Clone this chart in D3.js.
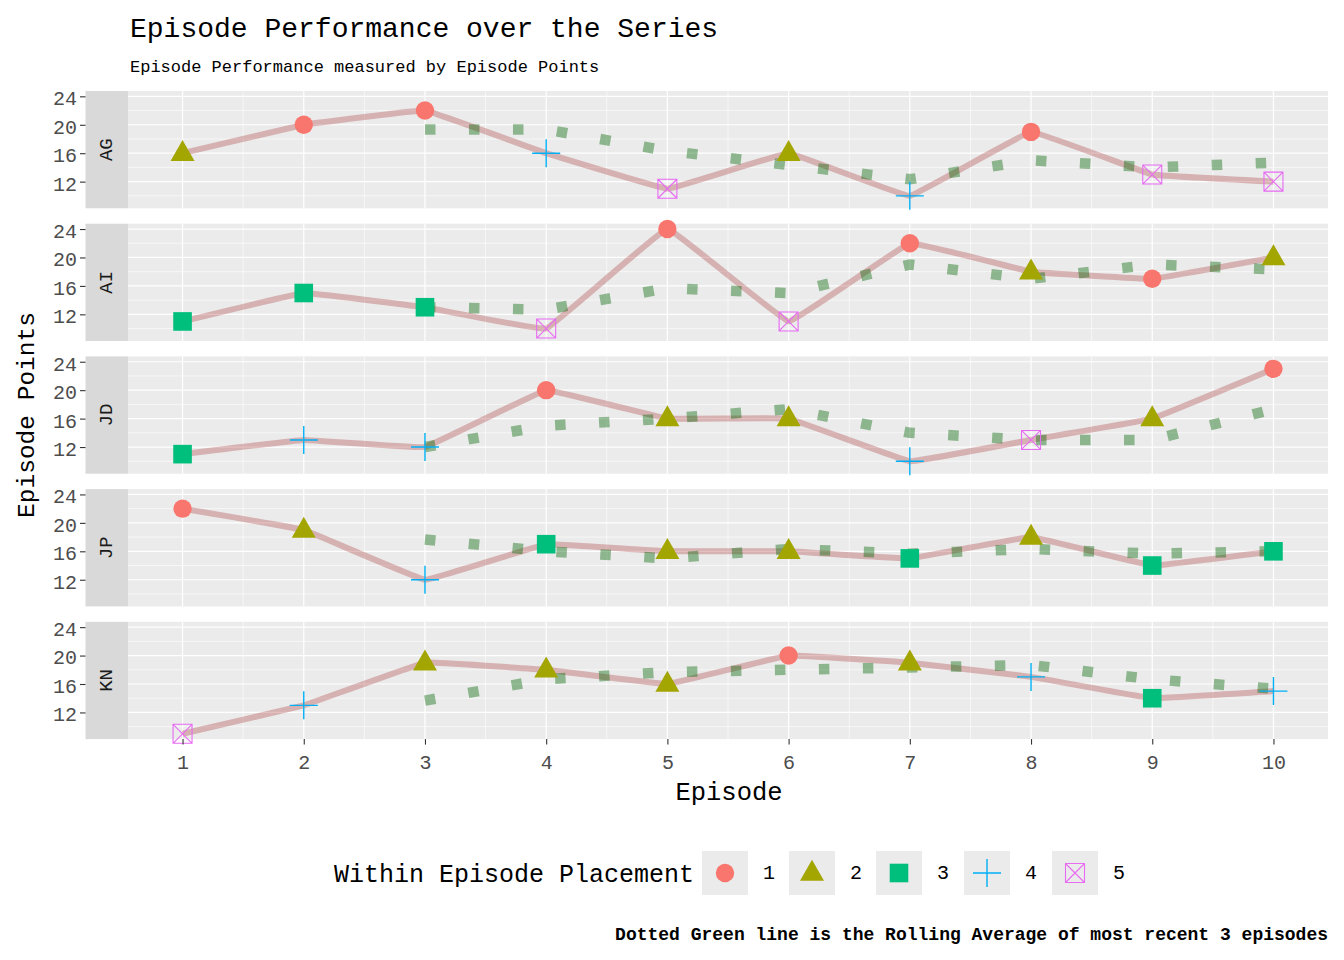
<!DOCTYPE html>
<html>
<head>
<meta charset="utf-8">
<script src="https://cdn.jsdelivr.net/npm/d3@7"></script>
<style>
  body { margin: 0; background: #fff; }
  text { font-family: "Liberation Mono", "DejaVu Sans Mono", monospace; }
</style>
</head>
<body>
<script>
const EPISODES = [1, 2, 3, 4, 5, 6, 7, 8, 9, 10]
const CONTESTANTS = ['AG', 'AI', 'JD', 'JP', 'KN']
const Y_TICKS = [12, 16, 20, 24]
const Y_MINOR = [10, 14, 18, 22]
const PLACEMENTS = [1, 2, 3, 4, 5]
const PLACE_COLORS = ['#F8766D', '#A3A500', '#00BF7D', '#00B0F6', '#E76BF3']

// episode points per contestant
const pointsAG = [16, 20, 22, 16, 11, 16, 10, 19, 13, 12]
const pointsAI = [11, 15, 13, 10, 24, 11, 22, 18, 17, 20]
const pointsJD = [11, 13, 12, 20, 16, 16, 10, 13, 16, 23]
const pointsJP = [22, 19, 12, 17, 16, 16, 15, 18, 14, 16]
const pointsKN = [9, 13, 19, 18, 16, 20, 19, 17, 14, 15]

// placement within each episode
const placeAG = [2, 1, 1, 4, 5, 2, 4, 1, 5, 5]
const placeAI = [3, 3, 3, 5, 1, 5, 1, 2, 1, 2]
const placeJD = [3, 4, 4, 1, 2, 2, 4, 5, 2, 1]
const placeJP = [1, 2, 4, 3, 2, 2, 3, 2, 3, 3]
const placeKN = [5, 4, 2, 2, 2, 1, 2, 4, 3, 4]

// rolling average (episodes 3..10) as drawn by the dotted line
const ROLL_EPISODES = [3, 4, 5, 6, 7, 8, 9, 10]
const rollAG = [19.33, 19.33, 16.33, 14.33, 12.33, 15, 14, 14.67]
const rollAI = [13, 12.67, 15.67, 15, 19, 17, 19, 18.33]
const rollJD = [12, 15, 16, 17.33, 14, 13, 13, 17.33]
const rollJP = [17.67, 16, 15, 16.33, 15.67, 16.33, 15.67, 16]
const rollKN = [13.67, 16.67, 17.67, 18, 18.33, 18.67, 16.67, 15.33]

const pointsBy = { AG: pointsAG, AI: pointsAI, JD: pointsJD, JP: pointsJP, KN: pointsKN }
const placeBy = { AG: placeAG, AI: placeAI, JD: placeJD, JP: placeJP, KN: placeKN }
const rollBy = { AG: rollAG, AI: rollAI, JD: rollJD, JP: rollJP, KN: rollKN }

// layout
const W = 1344, H = 960
const panelLeft = 128, panelRight = 1328
const stripLeft = 85.5
const panelTop0 = 91, panelH = 117.3, panelPitch = 132.7

const svg = d3.select('body').append('svg').attr('width', W).attr('height', H)

const xScale = d3.scaleLinear().domain([0.55, 10.45]).range([panelLeft, panelRight])
const colorScale = d3.scaleOrdinal().domain(PLACEMENTS).range(PLACE_COLORS)

// draws the marker for a placement value into a group centered at 0,0
function drawMarker(g, place) {
  const c = colorScale(place)
  if (place === 1) {
    g.append('circle').attr('r', 9.2).attr('fill', c)
  } else if (place === 2) {
    g.append('path').attr('d', 'M0,-13.3 L12,7.7 L-12,7.7 Z').attr('fill', c)
  } else if (place === 3) {
    g.append('rect').attr('x', -9.3).attr('y', -9.3).attr('width', 18.6).attr('height', 18.6).attr('fill', c)
  } else if (place === 4) {
    g.append('path').attr('d', 'M-14,0 H14 M0,-14 V14').attr('stroke', c).attr('stroke-width', 1.4).attr('fill', 'none')
  } else {
    g.append('path')
      .attr('d', 'M-9.5,-9.5 H9.5 V9.5 H-9.5 Z M-9.5,-9.5 L9.5,9.5 M9.5,-9.5 L-9.5,9.5')
      .attr('stroke', c).attr('stroke-width', 1.1).attr('fill', 'none')
  }
}

CONTESTANTS.forEach((name, i) => {
  const top = panelTop0 + i * panelPitch
  const yScale = d3.scaleLinear().domain([8.25, 24.75]).range([top + panelH, top])
  const g = svg.append('g')

  // panel background + grid
  g.append('rect').attr('x', panelLeft).attr('y', top).attr('width', panelRight - panelLeft)
    .attr('height', panelH).attr('fill', '#EBEBEB')
  g.selectAll('.ymin').data(Y_MINOR).enter().append('line')
    .attr('x1', panelLeft).attr('x2', panelRight)
    .attr('y1', d => yScale(d)).attr('y2', d => yScale(d))
    .attr('stroke', '#fff').attr('stroke-width', 0.6)
  g.selectAll('.xmin').data(EPISODES.slice(0, 9)).enter().append('line')
    .attr('x1', d => xScale(d + 0.5)).attr('x2', d => xScale(d + 0.5))
    .attr('y1', top).attr('y2', top + panelH)
    .attr('stroke', '#fff').attr('stroke-width', 0.6)
  g.selectAll('.ymaj').data(Y_TICKS).enter().append('line')
    .attr('x1', panelLeft).attr('x2', panelRight)
    .attr('y1', d => yScale(d)).attr('y2', d => yScale(d))
    .attr('stroke', '#fff').attr('stroke-width', 1.2)
  g.selectAll('.xmaj').data(EPISODES).enter().append('line')
    .attr('x1', d => xScale(d)).attr('x2', d => xScale(d))
    .attr('y1', top).attr('y2', top + panelH)
    .attr('stroke', '#fff').attr('stroke-width', 1.2)

  // strip on the left
  g.append('rect').attr('x', stripLeft).attr('y', top).attr('width', panelLeft - stripLeft)
    .attr('height', panelH).attr('fill', '#D9D9D9')
  g.append('text')
    .attr('transform', 'translate(' + ((stripLeft + panelLeft) / 2) + ',' + (top + panelH / 2) + ') rotate(-90)')
    .attr('text-anchor', 'middle').attr('dominant-baseline', 'central')
    .attr('font-size', 19).attr('fill', '#1A1A1A').text(name)

  // y axis
  const yAxis = g.append('g').attr('transform', 'translate(' + stripLeft + ',0)')
    .call(d3.axisLeft(yScale).tickValues(Y_TICKS).tickSize(5.5).tickPadding(3))
  yAxis.select('.domain').remove()
  yAxis.selectAll('line').attr('stroke', '#333333').attr('stroke-width', 1.1)
  yAxis.selectAll('text').attr('font-size', 20).attr('fill', '#4D4D4D')
    .attr('font-family', '"Liberation Mono", monospace').attr('dy', '0.42em')

  const pts = EPISODES.map((e, k) => ({ ep: e, v: pointsBy[name][k], place: placeBy[name][k] }))
  const roll = ROLL_EPISODES.map((e, k) => ({ ep: e, v: rollBy[name][k] }))

  // main line
  const line = d3.line().x(d => xScale(d.ep)).y(d => yScale(d.v)).curve(d3.curveCardinal.tension(0.85))
  g.append('path').datum(pts).attr('d', line)
    .attr('fill', 'none').attr('stroke', 'rgb(165,42,42)').attr('stroke-opacity', 0.3)
    .attr('stroke-width', 6)

  // rolling average, dotted
  const rollLine = d3.line().x(d => xScale(d.ep)).y(d => yScale(d.v))
  g.append('path').datum(roll).attr('d', rollLine)
    .attr('fill', 'none').attr('stroke', 'darkgreen').attr('stroke-opacity', 0.4)
    .attr('stroke-width', 10.5).attr('stroke-dasharray', '10.5 33.5')

  // markers
  g.selectAll('.pt').data(pts).enter().append('g')
    .attr('transform', d => 'translate(' + xScale(d.ep) + ',' + yScale(d.v) + ')')
    .each(function (d) { drawMarker(d3.select(this), d.place) })

  // x axis under the last panel
  if (i === CONTESTANTS.length - 1) {
    const xAxis = svg.append('g').attr('transform', 'translate(0,' + (top + panelH) + ')')
      .call(d3.axisBottom(xScale).tickValues(EPISODES).tickSize(5.5).tickPadding(10))
    xAxis.select('.domain').remove()
    xAxis.selectAll('line').attr('stroke', '#333333').attr('stroke-width', 1.1)
    xAxis.selectAll('text').attr('font-size', 20).attr('fill', '#4D4D4D')
      .attr('font-family', '"Liberation Mono", monospace')
  }
})

// titles
svg.append('text').attr('x', 130).attr('y', 37).attr('font-size', 28).attr('fill', '#000')
  .text('Episode Performance over the Series')
svg.append('text').attr('x', 130).attr('y', 72).attr('font-size', 17).attr('fill', '#000')
  .text('Episode Performance measured by Episode Points')
svg.append('text').attr('x', (panelLeft + panelRight) / 2 + 1).attr('y', 800)
  .attr('text-anchor', 'middle').attr('font-size', 25.5).attr('fill', '#000').text('Episode')
svg.append('text').attr('transform', 'translate(34,415) rotate(-90)')
  .attr('text-anchor', 'middle').attr('font-size', 24.5).attr('fill', '#000').text('Episode Points')

// legend
const legendY = 851, keyW = 46, keyH = 44
const legendX = [702, 789, 876, 964, 1052]
svg.append('text').attr('x', 334).attr('y', 882).attr('font-size', 25).attr('fill', '#000')
  .text('Within Episode Placement')
const legend = svg.selectAll('.leg').data(PLACEMENTS).enter().append('g')
  .attr('transform', (d, k) => 'translate(' + legendX[k] + ',' + legendY + ')')
legend.append('rect').attr('width', keyW).attr('height', keyH).attr('fill', '#EBEBEB')
legend.append('g').attr('transform', 'translate(' + keyW / 2 + ',' + keyH / 2 + ')')
  .each(function (d) { drawMarker(d3.select(this), d) })
legend.append('text').attr('x', keyW + 15).attr('y', keyH / 2).attr('dominant-baseline', 'central')
  .attr('font-size', 20).attr('fill', '#000').text(d => d)

// caption
svg.append('text').attr('x', 1328).attr('y', 940).attr('text-anchor', 'end')
  .attr('font-size', 18).attr('font-weight', 'bold').attr('fill', '#000')
  .text('Dotted Green line is the Rolling Average of most recent 3 episodes')
</script>
</body>
</html>
